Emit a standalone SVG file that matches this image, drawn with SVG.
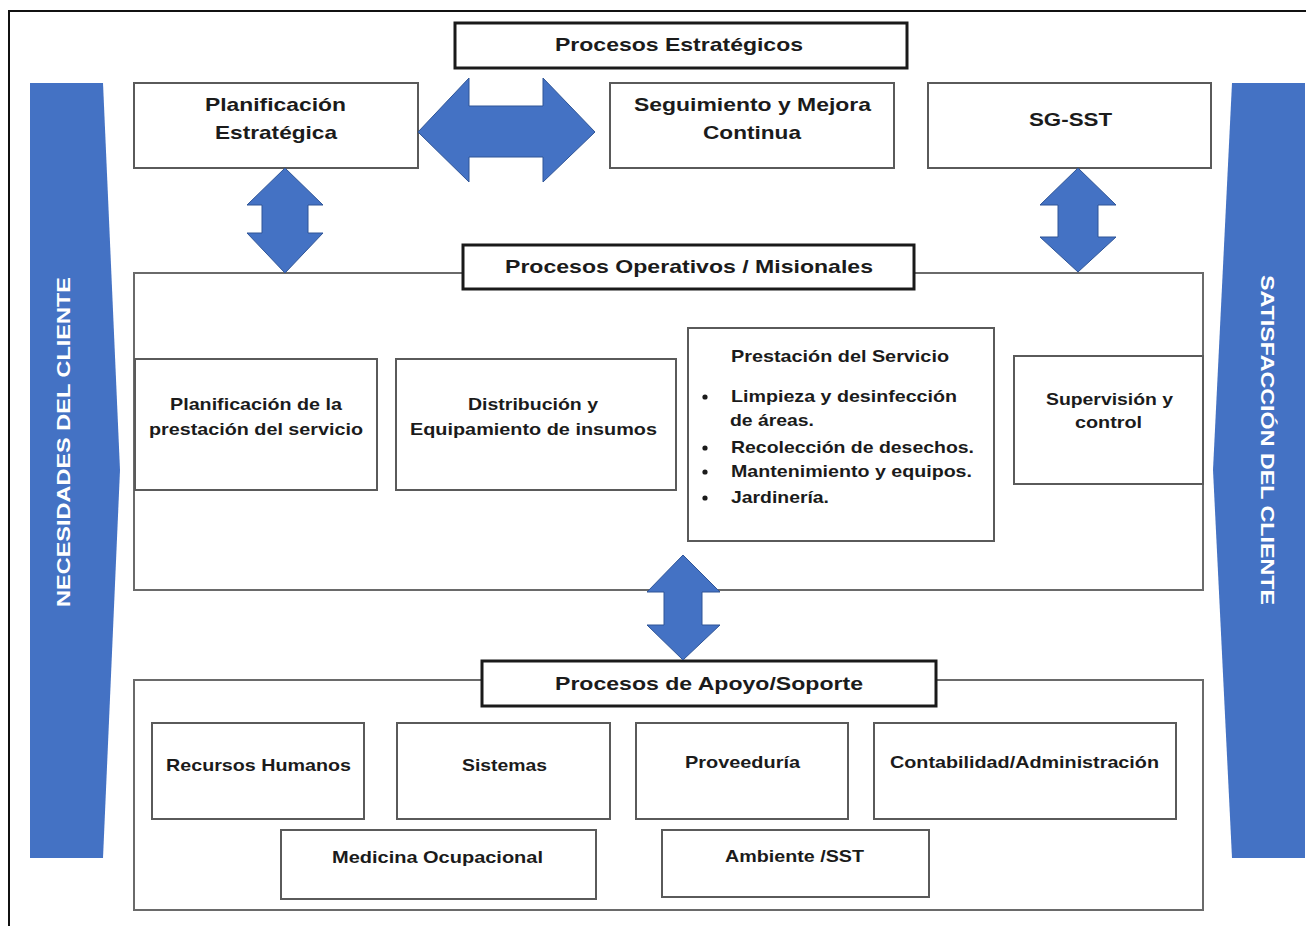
<svg xmlns="http://www.w3.org/2000/svg" width="1306" height="926" viewBox="0 0 1306 926">
<style>
text{font-family:"Liberation Sans",Arial,sans-serif;font-weight:bold;fill:#1b1b1b;}
.t{font-size:19px;}
.s{font-size:17px;}
.v{font-size:18px;fill:#ffffff;}
.title{fill:#ffffff;stroke:#1a1a1a;stroke-width:3;}
.box{fill:#ffffff;stroke:#5a5a5a;stroke-width:2;}
.cont{fill:#ffffff;stroke:#6a6a6a;stroke-width:2;}
.bar{fill:#4472c4;}
.arr{fill:#4472c4;stroke:#2f5597;stroke-width:1;}
</style>
<rect x="0" y="0" width="1306" height="926" fill="#ffffff"/>
<path d="M9,926 V11 H1306" fill="none" stroke="#111111" stroke-width="2"/>

<g id="necesidades">
<path class="bar" d="M30,83 H103 L120,470 L103,858 H30 Z"/>
<text class="v" transform="translate(70,442) rotate(-90)" text-anchor="middle" textLength="330" lengthAdjust="spacingAndGlyphs">NECESIDADES DEL CLIENTE</text>
</g>
<g id="satisfaccion">
<path class="bar" d="M1232,83 H1305 V858 H1232 L1213,470 Z"/>
<text class="v" transform="translate(1261,440) rotate(90)" text-anchor="middle" textLength="330" lengthAdjust="spacingAndGlyphs">SATISFACCIÓN DEL CLIENTE</text>
</g>

<g id="operativos-container"><rect class="cont" x="134" y="273" width="1069" height="317"/></g>
<g id="apoyo-container"><rect class="cont" x="134" y="680" width="1069" height="230"/></g>

<g id="estrategicos-title">
<rect class="title" x="455" y="23" width="452" height="45"/>
<text class="t" x="555" y="51" textLength="248" lengthAdjust="spacingAndGlyphs">Procesos Estratégicos</text>
</g>
<g id="planificacion-estrategica">
<rect class="box" x="134" y="83" width="284" height="85"/>
<text class="t" x="205" y="111" textLength="141" lengthAdjust="spacingAndGlyphs">Planificación</text>
<text class="t" x="215" y="139" textLength="122" lengthAdjust="spacingAndGlyphs">Estratégica</text>
</g>
<g id="seguimiento">
<rect class="box" x="610" y="83" width="284" height="85"/>
<text class="t" x="634" y="111" textLength="237" lengthAdjust="spacingAndGlyphs">Seguimiento y Mejora</text>
<text class="t" x="703" y="139" textLength="98" lengthAdjust="spacingAndGlyphs">Continua</text>
</g>
<g id="sg-sst">
<rect class="box" x="928" y="83" width="283" height="85"/>
<text class="t" x="1029" y="126" textLength="83" lengthAdjust="spacingAndGlyphs">SG-SST</text>
</g>

<g id="operativos-title">
<rect class="title" x="463" y="245" width="451" height="44"/>
<text class="t" x="505" y="273" textLength="368" lengthAdjust="spacingAndGlyphs">Procesos Operativos / Misionales</text>
</g>
<g id="planificacion-prestacion">
<rect class="box" x="135" y="359" width="242" height="131"/>
<text class="s" x="170" y="410" textLength="172" lengthAdjust="spacingAndGlyphs">Planificación de la</text>
<text class="s" x="149" y="435" textLength="214" lengthAdjust="spacingAndGlyphs">prestación del servicio</text>
</g>
<g id="distribucion">
<rect class="box" x="396" y="359" width="280" height="131"/>
<text class="s" x="468" y="410" textLength="130" lengthAdjust="spacingAndGlyphs">Distribución y</text>
<text class="s" x="410" y="435" textLength="247" lengthAdjust="spacingAndGlyphs">Equipamiento de insumos</text>
</g>
<g id="prestacion">
<rect class="box" x="688" y="328" width="306" height="213"/>
<text class="s" x="731" y="362" textLength="218" lengthAdjust="spacingAndGlyphs">Prestación del Servicio</text>
<circle cx="705" cy="397" r="2.6" fill="#1b1b1b"/>
<circle cx="705" cy="448" r="2.6" fill="#1b1b1b"/>
<circle cx="705" cy="472" r="2.6" fill="#1b1b1b"/>
<circle cx="705" cy="498" r="2.6" fill="#1b1b1b"/>
<text class="s" x="731" y="402" textLength="226" lengthAdjust="spacingAndGlyphs">Limpieza y desinfección</text>
<text class="s" x="730" y="426" textLength="84" lengthAdjust="spacingAndGlyphs">de áreas.</text>
<text class="s" x="731" y="453" textLength="243" lengthAdjust="spacingAndGlyphs">Recolección de desechos.</text>
<text class="s" x="731" y="477" textLength="241" lengthAdjust="spacingAndGlyphs">Mantenimiento y equipos.</text>
<text class="s" x="731" y="503" textLength="98" lengthAdjust="spacingAndGlyphs">Jardinería.</text>
</g>
<g id="supervision">
<rect class="box" x="1014" y="356" width="189" height="128"/>
<text class="s" x="1046" y="405" textLength="127" lengthAdjust="spacingAndGlyphs">Supervisión y</text>
<text class="s" x="1075" y="428" textLength="67" lengthAdjust="spacingAndGlyphs">control</text>
</g>

<g id="apoyo-title">
<rect class="title" x="482" y="661" width="454" height="45"/>
<text class="t" x="555" y="690" textLength="308" lengthAdjust="spacingAndGlyphs">Procesos de Apoyo/Soporte</text>
</g>
<g id="recursos-humanos">
<rect class="box" x="152" y="723" width="212" height="96"/>
<text class="s" x="166" y="771" textLength="185" lengthAdjust="spacingAndGlyphs">Recursos Humanos</text>
</g>
<g id="sistemas">
<rect class="box" x="397" y="723" width="213" height="96"/>
<text class="s" x="462" y="771" textLength="85" lengthAdjust="spacingAndGlyphs">Sistemas</text>
</g>
<g id="proveeduria">
<rect class="box" x="636" y="723" width="212" height="96"/>
<text class="s" x="685" y="768" textLength="115" lengthAdjust="spacingAndGlyphs">Proveeduría</text>
</g>
<g id="contabilidad">
<rect class="box" x="874" y="723" width="302" height="96"/>
<text class="s" x="890" y="768" textLength="269" lengthAdjust="spacingAndGlyphs">Contabilidad/Administración</text>
</g>
<g id="medicina">
<rect class="box" x="281" y="830" width="315" height="69"/>
<text class="s" x="332" y="863" textLength="211" lengthAdjust="spacingAndGlyphs">Medicina Ocupacional</text>
</g>
<g id="ambiente">
<rect class="box" x="662" y="830" width="267" height="67"/>
<text class="s" x="725" y="862" textLength="139" lengthAdjust="spacingAndGlyphs">Ambiente /SST</text>
</g>

<g id="connectors">
<polygon class="arr" points="418,132 469,78 469,106 543,106 543,78 595,132 543,182 543,157 469,157 469,182"/>
<polygon class="arr" points="285,168 323,205 308,205 308,233 323,233 285,273 247,233 262,233 262,205 247,205"/>
<polygon class="arr" points="1078,168 1116,205 1098,205 1098,237 1116,237 1078,272 1040,237 1058,237 1058,205 1040,205"/>
<polygon class="arr" points="683,555 720,592 702,592 702,625 720,625 683,660 647,625 664,625 664,592 647,592"/>
</g>
</svg>
